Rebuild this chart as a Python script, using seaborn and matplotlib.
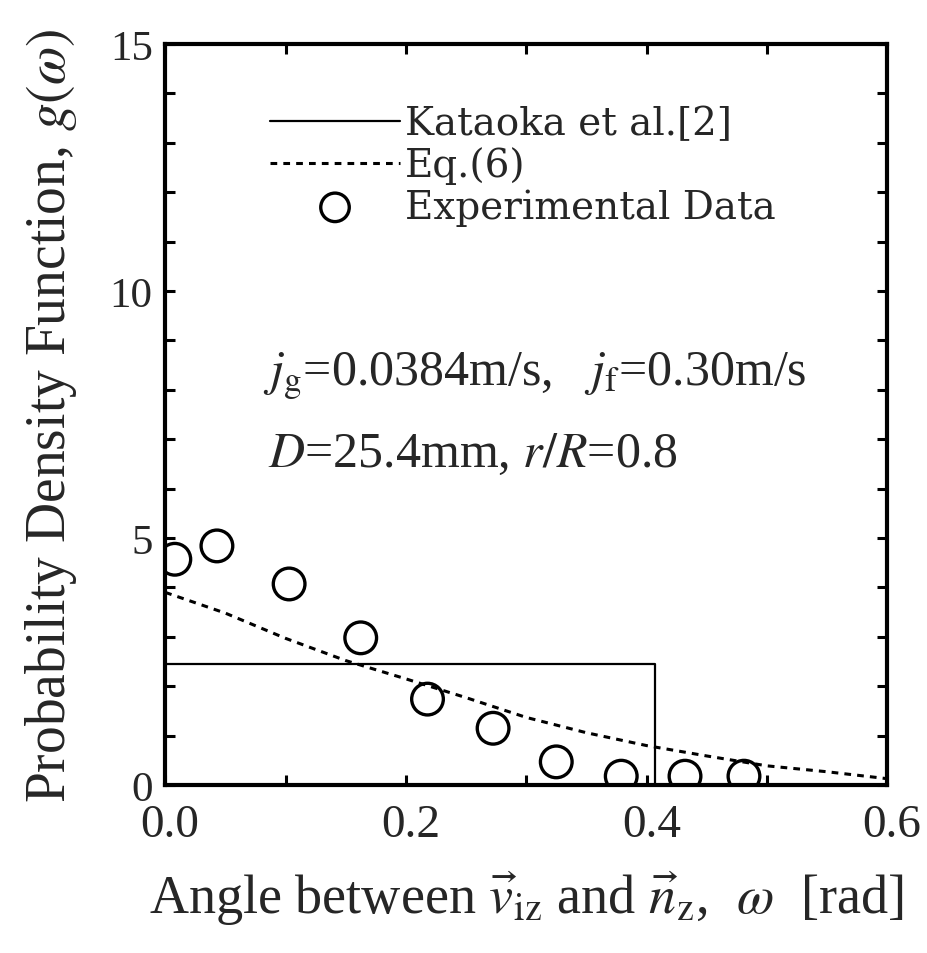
import matplotlib
matplotlib.use("Agg")
import matplotlib.pyplot as plt
import matplotlib.transforms as mtransforms
import seaborn as sns
import pandas as pd
from matplotlib.ticker import MultipleLocator

# ---- data ----
exp_w = [0.008, 0.043, 0.103, 0.1625, 0.218, 0.2725, 0.325, 0.379, 0.432, 0.481]
exp_g = [4.57, 4.84, 4.07, 2.98, 1.74, 1.15, 0.47, 0.18, 0.18, 0.18]

eq6_w = [0.0, 0.05, 0.10, 0.15, 0.20, 0.25, 0.30, 0.35, 0.40, 0.45, 0.50, 0.55, 0.60]
eq6_g = [3.90, 3.48, 2.97, 2.52, 2.15, 1.77, 1.37, 1.06, 0.80, 0.59, 0.39, 0.27, 0.13]

kat_w = [0.0, 0.407, 0.407]
kat_g = [2.45, 2.45, 0.0]

xticks = [0.0, 0.2, 0.4, 0.6]
xticklabels = ["0.0", "0.2", "0.4", "0.6"]
yticks = [0, 5, 10, 15]
yticklabels = ["0", "5", "10", "15"]

sns.set_theme(style="ticks")
plt.rcParams["font.family"] = ["Liberation Serif", "DejaVu Serif"]
plt.rcParams["mathtext.fontset"] = "stix"

fig = plt.figure(figsize=(9.28, 9.54), dpi=100)
ax = fig.add_axes([0.178, 0.176, 0.778, 0.777])

kat_df = pd.DataFrame({"w": kat_w, "g": kat_g})
eq_df = pd.DataFrame({"w": eq6_w, "g": eq6_g})
exp_df = pd.DataFrame({"w": exp_w, "g": exp_g})

sns.lineplot(data=kat_df, x="w", y="g", ax=ax, color="black", lw=1.6,
             estimator=None, sort=False, label="Kataoka et al.[2]")
sns.lineplot(data=eq_df, x="w", y="g", ax=ax, color="black", lw=2.2,
             linestyle=(0, (2.2, 2.0)), estimator=None, label="Eq.(6)")
sns.scatterplot(data=exp_df, x="w", y="g", ax=ax, s=520, facecolor="none",
                edgecolor="black", linewidth=2.4, marker="o",
                label="Experimental Data", zorder=3)

ax.set_xlim(0, 0.6)
ax.set_ylim(0, 15)
ax.set_xticks(xticks)
ax.set_xticklabels(xticklabels)
ax.set_yticks(yticks)
ax.set_yticklabels(yticklabels)
ax.xaxis.set_minor_locator(MultipleLocator(0.1))
ax.yaxis.set_minor_locator(MultipleLocator(1))
ax.tick_params(which="both", direction="in", top=True, right=True,
               length=7, width=2.2, color="black")
ax.tick_params(axis="x", labelsize=34, pad=13)
ax.tick_params(axis="y", labelsize=31, pad=9)
offset = mtransforms.ScaledTranslation(5 / 100, 0, fig.dpi_scale_trans)
for lab in ax.get_xticklabels():
    lab.set_transform(lab.get_transform() + offset)
for sp in ax.spines.values():
    sp.set_linewidth(3.0)
    sp.set_color("black")

ax.set_xlabel(r"Angle between $\vec{v}_{\rm iz}$ and $\vec{n}_{\rm z}$,  $\omega$  [rad]",
              fontsize=39, labelpad=17)
ax.set_ylabel(r"Probability Density Function, $g(\omega)$", fontsize=40, labelpad=22)

leg = ax.legend(loc="upper left", bbox_to_anchor=(0.145, 0.917), frameon=False,
                prop={"family": "DejaVu Serif", "size": 28},
                handlelength=3.35, handletextpad=0.12,
                borderpad=0, borderaxespad=0, labelspacing=0.1, markerscale=0.9)

ax.text(0.135, 0.540, r"$j_{\rm g}$=0.0384m/s,   $j_{\rm f}$=0.30m/s",
        transform=ax.transAxes, fontsize=36, va="baseline", ha="left")
ax.text(0.142, 0.4305, r"$D$=25.4mm, $r/R$=0.8",
        transform=ax.transAxes, fontsize=36, va="baseline", ha="left")

fig.savefig("out.png", dpi=100, facecolor="white")
